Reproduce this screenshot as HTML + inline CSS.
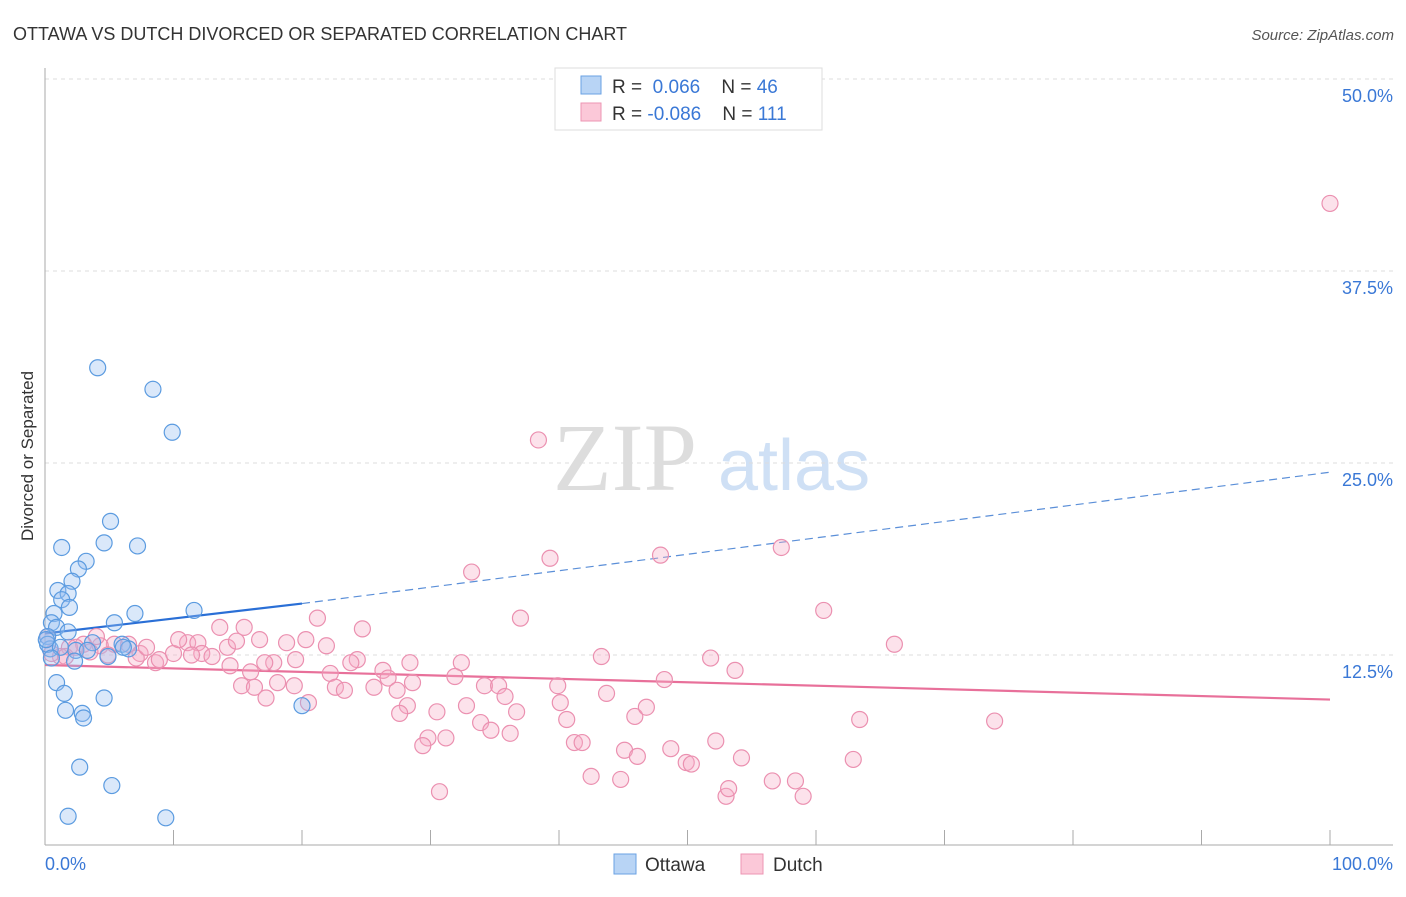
<!DOCTYPE html>
<html><head><meta charset="utf-8"><style>
body{margin:0;background:#fff;font-family:"Liberation Sans",sans-serif;}
svg text{font-family:"Liberation Sans",sans-serif;}
</style></head><body>
<svg id="chart" width="1406" height="892" viewBox="0 0 1406 892" xmlns="http://www.w3.org/2000/svg">
<text x="13" y="40" font-size="18" fill="#333">OTTAWA VS DUTCH DIVORCED OR SEPARATED CORRELATION CHART</text>
<text x="1394" y="40" font-size="15" fill="#555" text-anchor="end" font-style="italic">Source: ZipAtlas.com</text>
<g>
<text x="553" y="490" font-size="96" fill="#ddd" style="font-family:'Liberation Serif',serif">ZIP</text>
<text x="718" y="490" font-size="72" fill="#cfe0f5">atlas</text>
</g>
<g id="grid"></g>
<g id="axes"></g>
<text transform="translate(33,456) rotate(-90)" font-size="17" fill="#333" text-anchor="middle">Divorced or Separated</text>
<g id="trends"></g>
<g id="points"></g>
<g>
<rect x="555" y="68" width="267" height="62" fill="#fff" stroke="#ddd"/>
<rect x="581" y="76" width="20" height="18" fill="#b8d4f5" stroke="#6aa2e3"/>
<rect x="581" y="103" width="20" height="18" fill="#fbc8d8" stroke="#ec96b3"/>
<text x="612" y="93" font-size="19" fill="#333">R = <tspan fill="#3a78d6">&#160;0.066</tspan>&#160;&#160;&#160;&#160;N = <tspan fill="#3a78d6">46</tspan></text>
<text x="612" y="120" font-size="19" fill="#333">R = <tspan fill="#3a78d6">-0.086</tspan>&#160;&#160;&#160;&#160;N = <tspan fill="#3a78d6">111</tspan></text>
</g>
<g>
<rect x="614" y="854" width="22" height="20" fill="#b8d4f5" stroke="#6aa2e3"/>
<text x="645" y="871" font-size="19" fill="#333">Ottawa</text>
<rect x="741" y="854" width="22" height="20" fill="#fbc8d8" stroke="#ec96b3"/>
<text x="773" y="871" font-size="19" fill="#333">Dutch</text>
</g>
</svg>
<script>
const yTicks=[12.5,25,37.5,50];
const yTickLabels=["12.5%","25.0%","37.5%","50.0%"];
const xTicks=[0,10,20,30,40,50,60,70,80,90,100];
const ottawaX=[4.1,8.4,9.9,5.1,4.6,7.2,1.3,3.2,2.6,2.1,1.0,1.8,1.3,1.9,0.7,7.0,11.6,0.5,5.4,0.9,1.8,0.2,3.7,6.0,0.4,2.4,3.3,6.5,4.9,2.3,0.9,1.5,4.6,1.6,2.9,3.0,20.0,2.7,5.2,1.8,9.4,0.2,1.2,6.1,0.1,0.5];
const ottawaY=[31.2,29.8,27.0,21.2,19.8,19.6,19.5,18.6,18.1,17.3,16.7,16.5,16.1,15.6,15.2,15.2,15.4,14.6,14.6,14.3,14.0,13.7,13.3,13.2,12.9,12.8,12.8,12.9,12.4,12.1,10.7,10.0,9.7,8.9,8.7,8.4,9.2,5.2,4.0,2.0,1.9,13.2,13.0,13.0,13.5,12.3];
const dutchX=[100,38.4,39.3,47.9,57.3,33.2,60.6,37.0,21.2,24.7,66.1,43.3,51.8,53.7,48.2,32.4,31.9,28.4,26.3,26.7,24.3,23.8,25.6,22.2,22.6,23.3,19.5,17.8,16.0,15.3,16.3,17.2,18.1,19.4,20.5,27.4,28.6,28.2,27.6,30.5,32.8,34.2,35.3,35.8,36.7,33.9,34.7,36.2,40.1,39.9,40.6,43.7,45.9,46.8,29.8,29.4,31.2,41.2,41.8,45.1,46.1,48.7,49.9,50.3,52.2,54.2,42.5,44.8,30.7,53.0,53.2,56.6,58.4,59.0,62.9,63.4,73.9,15.5,13.6,11.1,10.0,8.6,7.4,6.5,5.4,4.3,4.0,3.0,1.9,1.2,0.5,0.2,1.6,2.4,3.5,4.9,7.1,8.9,7.9,10.4,11.9,12.2,14.2,14.9,16.7,18.8,17.1,13.0,14.4,11.4,20.3,21.9];
const dutchY=[41.9,26.5,18.8,19.0,19.5,17.9,15.4,14.9,14.9,14.2,13.2,12.4,12.3,11.5,10.9,12.0,11.1,12.0,11.5,11.0,12.2,12.0,10.4,11.3,10.4,10.2,12.2,12.0,11.4,10.5,10.4,9.7,10.7,10.5,9.4,10.2,10.7,9.2,8.7,8.8,9.2,10.5,10.5,9.8,8.8,8.1,7.6,7.4,9.4,10.5,8.3,10.0,8.5,9.1,7.1,6.6,7.1,6.8,6.8,6.3,5.9,6.4,5.5,5.4,6.9,5.8,4.6,4.4,3.6,3.3,3.8,4.3,4.3,3.3,5.7,8.3,8.2,14.3,14.3,13.3,12.6,12.0,12.6,13.2,13.2,13.1,13.7,13.2,13.0,12.4,12.6,13.7,12.4,13.0,12.7,12.5,12.3,12.2,13.0,13.5,13.3,12.6,13.0,13.4,13.5,13.3,12.0,12.4,11.8,12.5,13.5,13.1];
const ottawaTrend=[13.9,15.85,24.4];
const dutchTrend=[11.85,9.6];
const NS="http://www.w3.org/2000/svg";
const X=v=>45+v*12.85;
const Y=v=>847-v*15.36;
function mk(tag,attrs,parent){const e=document.createElementNS(NS,tag);for(const k in attrs)e.setAttribute(k,attrs[k]);parent.appendChild(e);return e;}
const grid=document.getElementById('grid'),axes=document.getElementById('axes');
yTicks.forEach((t,i)=>{
 const l=mk('line',{x1:45,x2:1393,y1:Y(t),y2:Y(t),stroke:'#ddd','stroke-dasharray':'4,4'},grid);
 
 
 const tx=mk('text',{x:1393,y:Y(t)+23,'font-size':18,fill:'#3a78d6','text-anchor':'end'},grid);
 tx.textContent=yTickLabels[i];
 
 
});
mk('line',{x1:45,x2:45,y1:68,y2:845,stroke:'#aaa'},axes);
mk('line',{x1:45,x2:1393,y1:845,y2:845,stroke:'#aaa'},axes);
xTicks.forEach(t=>{
 const l=mk('line',{x1:X(t),x2:X(t),y1:830,y2:845,stroke:'#aaa'},axes);
 
 
});
const x0=mk('text',{x:45,y:870,'font-size':18,fill:'#3a78d6'},axes);x0.textContent='0.0%';


const x1=mk('text',{x:1393,y:870,'font-size':18,fill:'#3a78d6','text-anchor':'end'},axes);x1.textContent='100.0%';


const pts=document.getElementById('points');
dutchX.forEach((v,i)=>{
 const c=mk('circle',{cx:X(v),cy:Y(dutchY[i]),r:8,fill:'rgba(246,172,198,0.35)',stroke:'#eb90b0','stroke-width':1.2},pts);
 
 
});
ottawaX.forEach((v,i)=>{
 const c=mk('circle',{cx:X(v),cy:Y(ottawaY[i]),r:8,fill:'rgba(150,190,240,0.35)',stroke:'#5b9be0','stroke-width':1.2},pts);
 
 
});
const tr=document.getElementById('trends');
const a=mk('line',{x1:X(0),y1:Y(ottawaTrend[0]),x2:X(20),y2:Y(ottawaTrend[1]),stroke:'#2a6fd6','stroke-width':2.2},tr);


const b=mk('line',{x1:X(20),y1:Y(ottawaTrend[1]),x2:X(100),y2:Y(ottawaTrend[2]),stroke:'#5b8fd8','stroke-width':1.2,'stroke-dasharray':'8,5'},tr);


const d=mk('line',{x1:X(0),y1:Y(dutchTrend[0]),x2:X(100),y2:Y(dutchTrend[1]),stroke:'#e8709a','stroke-width':2.2},tr);


</script>
</body></html>
